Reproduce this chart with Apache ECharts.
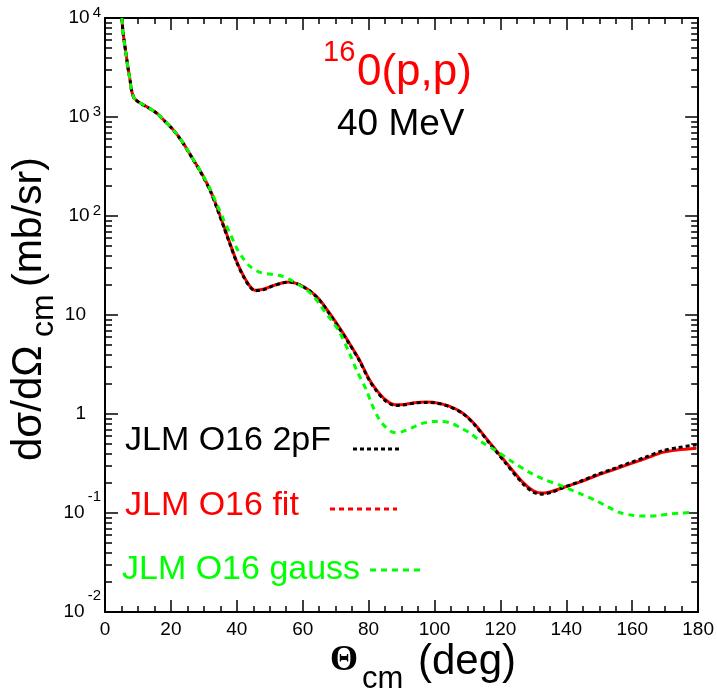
<!DOCTYPE html>
<html><head><meta charset="utf-8">
<script src="https://cdn.jsdelivr.net/npm/echarts@6/dist/echarts.min.js"></script>
<style>html,body{margin:0;padding:0;background:#fff}#c{width:717px;height:695px}</style>
</head><body><div id="c"></div>
<script>
// ---- data ----
const thetaFit = [5.1,5.5,6.0,6.5,7.0,7.6,8.0,8.5,9.0,9.6,10.6,13,15.7,18,20.7,23.5,26.8,28,30,32,34,36,38,40,42,44,45.5,48,51,54,56,58,60,62.5,65,68,71.1,74,77.1,80,82.2,85,88,91,94,97.3,100,104.4,108.6,112,116.7,121.7,126.8,130,132.8,135.5,138.9,144,149,154,159.1,164,169.2,174,179.5];
const sigmaFit = [10000,7100,5300,4070,3100,2370,1900,1650,1530,1470,1390,1250,1096,920,743,560,371,320,245,180,122,80,52,34.5,25,19.5,17.8,18.2,19.8,21.2,21.6,20.9,19.5,17.2,14.4,10.6,7.5,5.3,3.57,2.3,1.78,1.4,1.24,1.25,1.3,1.32,1.31,1.2,1.02,0.8,0.516,0.324,0.204,0.168,0.159,0.165,0.18,0.205,0.238,0.272,0.312,0.355,0.41,0.435,0.452];
const theta2pF = [5.1,5.5,6.0,6.5,7.0,7.6,8.0,8.5,9.0,9.6,10.6,13,15.7,18,20.7,23.5,26.8,28,30,32,34,36,38,40,42,44,45.5,48,51,54,56,58,60,62.5,65,68,71.1,74,77.1,80,82.2,85,88,91,94,97.3,100,104.4,108.6,112,116.7,121.7,126.8,130,132.5,135.5,138.9,144,149,154,159.1,164,169.2,174,179.5];
const sigma2pF = [10000,7100,5300,4070,3100,2370,1900,1640,1520,1460,1380,1245,1090,915,740,555,368,316,242,177,119,78,51,33.8,24.5,19.2,17.6,18.0,19.7,21.1,21.5,20.8,19.4,17.1,14.2,10.4,7.3,5.2,3.5,2.25,1.74,1.37,1.22,1.24,1.29,1.31,1.30,1.19,1.01,0.79,0.505,0.315,0.198,0.162,0.155,0.162,0.18,0.207,0.242,0.278,0.32,0.366,0.425,0.458,0.49];
const thetaGauss = [5.1,5.5,6.0,6.5,7.0,7.6,8.0,8.5,9.0,9.6,10.6,13,15.7,18,20.7,23.5,26.8,28,30,32,34,36,38,40,42,44,47,50.9,53.5,56,58.5,61,63,65,67,69,71,74.1,76.5,79.2,81,83.2,85.5,87.7,90,93.3,96,99.3,102,105.4,108,110.6,114,118.7,123,128.8,133,138.9,144,149,152.5,156,160,164,168,171,175,178.5];
const sigmaGauss = [10000,7100,5300,4070,3100,2370,1900,1650,1530,1470,1390,1250,1096,920,743,560,371,322,248,185,130,92,66,47,37,31,27,25.6,24.8,22.9,20.5,18.1,15.8,13.0,10.5,8.6,6.9,4.17,2.7,1.78,1.25,0.887,0.72,0.65,0.66,0.73,0.8,0.84,0.84,0.8,0.72,0.65,0.53,0.425,0.34,0.257,0.22,0.186,0.158,0.133,0.116,0.1016,0.095,0.093,0.094,0.0977,0.1,0.1016];
const yMajorTicks = [0.01,0.1,1,10,100,1000,10000];
const xTickInterval = 20;

const yMinorTicks = [];
yMajorTicks.slice(0,-1).forEach(d => { for (let k = 2; k <= 9; k++) yMinorTicks.push(d*k); });
const lg = v => Math.log10(v);

const FONT = '"Liberation Sans", Arial, Helvetica, sans-serif';
const pairs = (xs, ys) => xs.map((x, i) => [x, ys[i]]);

const chart = echarts.init(document.getElementById('c'), null, {renderer: 'canvas'});

const axisLine = {show: true, onZero: false, lineStyle: {color: '#000', width: 2}};
const tickStyle = {color: '#000', width: 1.5};

function yLabel(v) {
  const k = Math.round(Math.log10(v));
  if (k === 0) return '{b|1}{p| }';
  if (k === 1) return '{b|10}{p| }';
  if (k < 0) return '{b|10}{n|' + k + '}';
  return '{b|10}{e|' + k + '}';
}

// main log axis (data + labels)
const yMain = {
  type: 'log', logBase: 10, min: 0.01, max: 10000, position: 'left', offset: 0,
  axisLine: axisLine, axisTick: {show: false},
  axisLabel: {
    show: true, customValues: yMajorTicks, margin: 4, formatter: yLabel,
    rich: {
      b: {fontSize: 19, fontFamily: FONT, color: '#000'},
      e: {fontSize: 15, fontFamily: FONT, color: '#000', padding: [0, 0, 10, 3]},
      n: {fontSize: 15, fontFamily: FONT, color: '#000', padding: [0, 0, 32, 3]},
      p: {fontSize: 15, width: 15}
    }
  },
  splitLine: {show: false}, minorTick: {show: false}
};
// tick-only axes in log10 space, overlaid on the same grid
function yTickAxis(pos, values, len, line) {
  return {
    type: 'value', min: -2, max: 4, position: pos, offset: 0,
    axisLine: line ? axisLine : {show: false, onZero: false},
    axisTick: {show: true, inside: true, length: len, lineStyle: tickStyle, customValues: values.map(lg)},
    axisLabel: {show: false}, splitLine: {show: false}, minorTick: {show: false}
  };
}

function xAxisDef(pos, showLabel) {
  return {
    type: 'value', min: 0, max: 180, interval: xTickInterval, position: pos,
    axisLine: axisLine,
    axisTick: {show: true, inside: true, length: 12, lineStyle: tickStyle},
    minorTick: {show: true, splitNumber: 4, length: 6, lineStyle: tickStyle},
    axisLabel: showLabel ? {show: true, fontSize: 19, fontFamily: FONT, color: '#000', margin: 8} : {show: false},
    splitLine: {show: false}, minorSplitLine: {show: false}
  };
}

const T = (x, y, text, size, color, extra) => Object.assign({
  type: 'text', x: x, y: y, silent: true,
  style: {text: text, fill: color, font: size + 'px ' + FONT, textAlign: 'left', textVerticalAlign: 'middle'}
}, extra || {});

const option = {
  animation: false,
  backgroundColor: '#fff',
  grid: {left: 105, right: 17, top: 18, bottom: 83, containLabel: false},
  xAxis: [xAxisDef('bottom', true), xAxisDef('top', false)],
  yAxis: [
    yMain,
    yTickAxis('left', yMajorTicks, 13, false),
    yTickAxis('left', yMinorTicks, 7, false),
    yTickAxis('right', yMajorTicks, 13, true),
    yTickAxis('right', yMinorTicks, 7, false)
  ],
  series: [
    {name: 'JLM O16 fit', type: 'line', xAxisIndex: 0, yAxisIndex: 0, data: pairs(thetaFit, sigmaFit), showSymbol: false, smooth: 0.3,
     lineStyle: {color: '#ff0000', width: 3}, z: 2},
    {name: 'JLM O16 2pF', type: 'line', xAxisIndex: 0, yAxisIndex: 0, data: pairs(theta2pF, sigma2pF), showSymbol: false, smooth: 0.3,
     lineStyle: {color: '#000000', width: 3, type: [4, 3]}, z: 3},
    {name: 'JLM O16 gauss', type: 'line', xAxisIndex: 0, yAxisIndex: 0, data: pairs(thetaGauss, sigmaGauss), showSymbol: false, smooth: 0.3,
     lineStyle: {color: '#00ff00', width: 3, type: [6, 5]}, z: 4}
  ],
  graphic: [
    // title
    T(323, 53, '16', 29, '#ff0000'),
    T(357, 72.6, '0(p,p)', 44, '#ff0000'),
    T(337, 125, '40 MeV', 37, '#000000'),
    // legend
    T(125, 441, 'JLM O16 2pF', 34, '#000000'),
    {type: 'line', silent: true, shape: {x1: 353, y1: 449, x2: 402, y2: 449}, style: {stroke: '#000', lineWidth: 3, lineDash: [4, 3]}},
    T(125, 506, 'JLM O16 fit', 34, '#ff0000'),
    {type: 'line', silent: true, shape: {x1: 330, y1: 509, x2: 397, y2: 509}, style: {stroke: '#ff0000', lineWidth: 3, lineDash: [5, 4]}},
    T(122, 570, 'JLM O16 gauss', 34, '#00ff00'),
    {type: 'line', silent: true, shape: {x1: 370, y1: 570, x2: 420, y2: 570}, style: {stroke: '#00ff00', lineWidth: 3, lineDash: [6, 5]}},
    // x axis title
    {type: 'text', x: 330, y: 661, silent: true, style: {text: 'Θ', fill: '#000', font: 'bold 36px "Liberation Serif", "Times New Roman", serif', textAlign: 'left', textVerticalAlign: 'middle'}},
    T(362, 679, 'cm', 31, '#000'),
    T(418, 662, '(deg)', 42, '#000'),
    // y axis title (rotated)
    T(29.3, 461, 'dσ/dΩ', 42, '#000', {rotation: Math.PI / 2}),
    T(43.8, 337, 'cm', 32, '#000', {rotation: Math.PI / 2}),
    T(29.6, 287, '(mb/sr)', 41, '#000', {rotation: Math.PI / 2})
  ]
};
chart.setOption(option);
</script>
</body></html>
